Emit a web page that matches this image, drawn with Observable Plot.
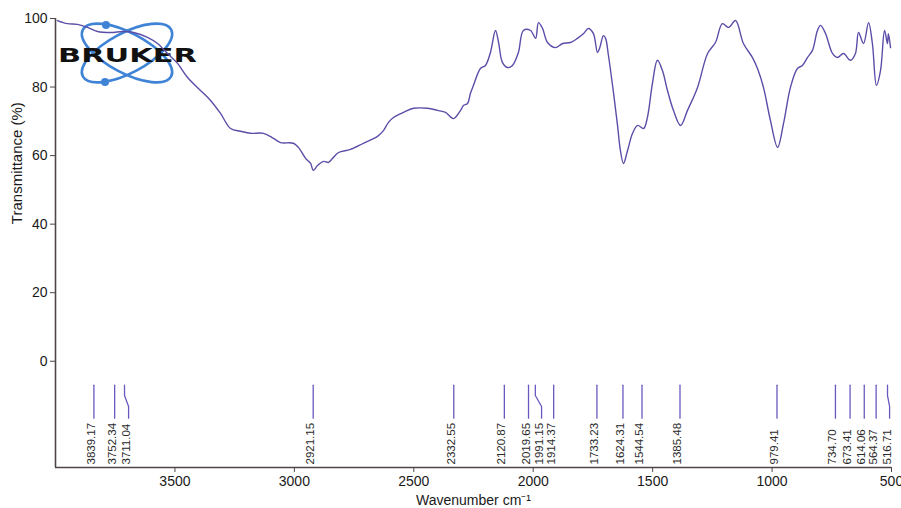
<!DOCTYPE html>
<html>
<head>
<meta charset="utf-8">
<script src="https://cdn.jsdelivr.net/npm/d3@7"></script>
<script src="https://cdn.jsdelivr.net/npm/@observablehq/plot@0.6"></script>
<style>
  html, body { margin: 0; padding: 0; background: #fff; }
  #chart { width: 901px; height: 508px; }
</style>
</head>
<body>
<div id="chart"></div>
<script>
// FTIR spectrum: wavenumber (cm-1) vs transmittance (%)
const wavenumber = [
  3992, 3950, 3908, 3866, 3824, 3770, 3715, 3673, 3615, 3573, 3531, 3489, 3447, 3393,
  3351, 3309, 3267, 3225, 3184, 3129, 3087, 3058, 3004, 2983, 2953, 2932, 2921, 2903,
  2878, 2857, 2840, 2815, 2765, 2711, 2652, 2627, 2606, 2585, 2543, 2501, 2443, 2401,
  2367, 2334, 2304, 2292, 2275, 2263, 2250, 2221, 2200, 2179, 2158, 2145, 2129, 2108,
  2087, 2062, 2041, 2011, 1990, 1978, 1961, 1940, 1907, 1877, 1844, 1815, 1789, 1769,
  1748, 1731, 1722, 1706, 1697, 1685, 1664, 1647, 1635, 1622, 1605, 1584, 1563, 1538,
  1522, 1501, 1480, 1459, 1438, 1413, 1383, 1354, 1312, 1270, 1237, 1208, 1182, 1153,
  1120, 1082, 1061, 1036, 1007, 977, 952, 923, 894, 873, 852, 831, 810, 797,
  776, 747, 726, 701, 672, 651, 638, 617, 596, 580, 563, 546, 529, 517, 513, 504
];
const transmittance = [
  99.4, 98.5, 98.3, 97.4, 96.2, 95.9, 96.2, 95.9, 94.5, 92.7, 89.8, 86.9, 82.8, 79.0,
  76.1, 72.3, 67.9, 67.1, 66.5, 66.5, 65.0, 63.8, 63.6, 62.4, 59.2, 57.7, 55.7, 57.1,
  58.3, 58.0, 59.2, 60.9, 61.8, 63.6, 65.6, 67.3, 69.7, 71.1, 72.6, 73.8, 73.8, 73.2,
  72.6, 70.8, 73.2, 74.6, 75.2, 78.1, 80.5, 85.4, 86.3, 90.1, 96.5, 93.0, 87.2, 85.7,
  86.3, 90.1, 96.5, 96.5, 94.2, 98.8, 97.1, 93.0, 91.5, 92.7, 93.0, 94.2, 95.6, 97.1,
  95.6, 90.1, 91.3, 95.0, 94.2, 89.2, 78.4, 68.8, 61.5, 57.7, 61.5, 66.5, 68.8, 67.9,
  71.1, 81.0, 87.8, 84.8, 79.0, 73.2, 68.8, 73.2, 79.9, 89.8, 93.0, 98.5, 97.4, 99.4,
  92.7, 88.6, 85.4, 79.9, 70.3, 62.4, 69.4, 79.9, 85.4, 86.3, 88.6, 90.7, 96.5, 98.0,
  95.6, 89.8, 88.6, 89.8, 87.8, 89.8, 95.9, 92.7, 98.8, 92.7, 80.5, 84.8, 96.5, 92.7, 95.6, 91.5
];

// Picked peaks and where their labels sit (shifted where labels would collide)
const peakLabels = ["3839.17", "3752.34", "3711.04", "2921.15", "2332.55", "2120.87", "2019.65",
  "1991.15", "1914.37", "1733.23", "1624.31", "1544.54", "1385.48", "979.41",
  "734.70", "673.41", "614.06", "564.37", "516.71"];
const peakPositions = [3839.17, 3752.34, 3711.04, 2921.15, 2332.55, 2120.87, 2019.65,
  1991.15, 1914.37, 1733.23, 1624.31, 1544.54, 1385.48, 979.41,
  734.70, 673.41, 614.06, 564.37, 516.71];
const labelPositions = [3839.17, 3752.34, 3694, 2921.15, 2332.55, 2120.87, 2019.65,
  1965, 1914.37, 1733.23, 1624.31, 1544.54, 1385.48, 979.41,
  734.70, 673.41, 614.06, 564.37, 508];

const xTicks = [3500, 3000, 2500, 2000, 1500, 1000, 500];
const yTicks = [0, 20, 40, 60, 80, 100];

// band below zero where the peak leader lines are drawn (transmittance units)
const leaderTop = -7, leaderKink1 = -10, leaderKink2 = -13.2, leaderBottom = -16.6;

const spectrum = wavenumber.map((w, i) => ({w, t: transmittance[i]}));
const leaders = peakLabels.flatMap((name, i) => [
  {name, w: peakPositions[i], t: leaderTop},
  {name, w: peakPositions[i], t: leaderKink1},
  {name, w: labelPositions[i], t: leaderKink2},
  {name, w: labelPositions[i], t: leaderBottom}
]);
const labels = peakLabels.map((name, i) => ({name, w: labelPositions[i]}));

const axisColor = "#4e4646";
const lineColor = "#5a4ea8";
const font = "'Liberation Sans', Arial, sans-serif";
const plain = d => String(d);

const chart = Plot.plot({
  width: 901,
  height: 508,
  marginLeft: 55,
  marginRight: 10,
  marginTop: 18,
  marginBottom: 41,
  style: {fontFamily: font, fontSize: "14px", color: "#1a1a1a", background: "#fff"},
  x: {domain: [4000, 500]},
  y: {domain: [-31, 100]},
  marks: [
    Plot.ruleX([4000], {stroke: axisColor, strokeWidth: 1.6}),
    Plot.ruleY([-31], {stroke: axisColor, strokeWidth: 1.6}),
    Plot.axisY({ticks: yTicks, tickFormat: plain, tickSize: 5, tickPadding: 3, stroke: axisColor,
      fontSize: 14, label: null}),
    Plot.axisX({ticks: xTicks, tickFormat: plain, tickSize: 5, tickPadding: 4, stroke: axisColor,
      fontSize: 14, label: "Wavenumber cm⁻¹", labelAnchor: "center", labelOffset: 37, labelArrow: "none"}),
    Plot.text(["Transmittance (%)"], {frameAnchor: "left", y: () => 40, text: d => d,
      rotate: -90, dx: -38, fontSize: 15, fill: "#1a1a1a"}),
    Plot.line(leaders, {x: "w", y: "t", z: "name", stroke: "#6a58c0", strokeWidth: 1.3}),
    Plot.text(labels, {x: "w", text: "name", frameAnchor: "bottom", dy: -3, dx: 1,
      rotate: -90, textAnchor: "start", fontSize: 11.5, fill: "#2a2a2a"}),
    Plot.line(spectrum, {x: "w", y: "t", stroke: lineColor, strokeWidth: 1.4, curve: "catmull-rom"})
  ]
});

// Bruker logo placed behind the spectrum in the top-left corner
const svg = d3.select(chart);
const logo = svg.insert("g", ":first-child").attr("class", "logo");
const cx = 127, cy = 53;
for (const angle of [28, -28]) {
  logo.append("ellipse").attr("cx", cx).attr("cy", cy).attr("rx", 50).attr("ry", 20)
    .attr("transform", `rotate(${angle} ${cx} ${cy})`)
    .attr("fill", "none").attr("stroke", "#3f83d6").attr("stroke-width", 2.6);
}
logo.append("circle").attr("cx", 106).attr("cy", 25).attr("r", 4).attr("fill", "#3f83d6");
logo.append("circle").attr("cx", 105).attr("cy", 82).attr("r", 4).attr("fill", "#3f83d6");
logo.append("text").attr("x", 58).attr("y", 62).attr("text-anchor", "start")
  .attr("textLength", 139).attr("lengthAdjust", "spacingAndGlyphs")
  .attr("font-family", "'DejaVu Sans', sans-serif").attr("font-weight", "bold").attr("font-size", 20)
  .attr("fill", "#111").text("BRUKER");

document.getElementById("chart").append(chart);
</script>
</body>
</html>
